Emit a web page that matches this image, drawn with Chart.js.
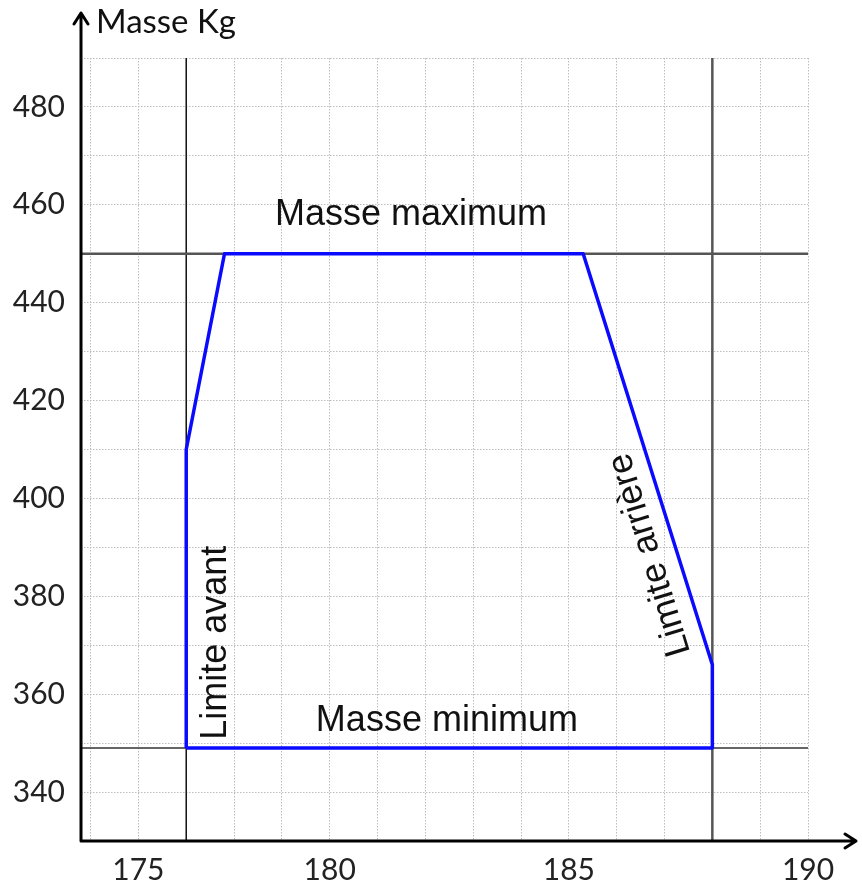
<!DOCTYPE html>
<html>
<head>
<meta charset="utf-8">
<script src="https://cdn.jsdelivr.net/npm/chart.js@4/dist/chart.umd.min.js"></script>
<style>
  html, body { margin: 0; background: #fff; }
</style>
</head>
<body>
<canvas id="centrage" width="862" height="891"></canvas>
<script>
// enveloppe de centrage : bras de levier (cm) / masse (kg)
const envX = [177, 177, 177.8, 185.3, 188, 188, 177];
const envY = [349, 410, 450, 450, 366, 349, 349];

const masseMax = 450;
const masseMin = 349;
const limiteAvant = 177;
const limiteArriere = 188;

const yTickLabels = [340, 360, 380, 400, 420, 440, 460, 480];
const xGrid = [175, 176, 177, 178, 179, 180, 181, 182, 183, 184, 185, 186, 187, 188, 189, 190];
const xTickAt = [176, 180, 185, 190];
const xTickText = ['175', '180', '185', '190'];

const X_MIN = 174.8, X_MAX = 190, Y_MIN = 330, Y_MAX = 490;

// textes posés sur le graphique (coordonnées dans les unités des axes)
const notes = [
    { text: 'Masse maximum', x: 181.7, y: 458, rot: 0 },
    { text: 'Masse minimum', x: 182.45, y: 354.5, rot: 0 },
    { text: 'Limite avant', x: 177.62, y: 370.5, rot: -90 },
    { text: 'Limite arrière', x: 186.7, y: 388.5, rot: -107 }
];

const line = (pts, color, width) => ({
    data: pts,
    borderColor: color,
    borderWidth: width,
    pointRadius: 0,
    fill: false
});

const axesPlugin = {
    id: 'axes',
    afterDraw(chart) {
        const ctx = chart.ctx;
        const a = chart.chartArea;
        const xs = chart.scales.x, ys = chart.scales.y;

        // textes
        ctx.save();
        ctx.fillStyle = '#111';
        ctx.font = '36px "Liberation Sans", Arial, sans-serif';
        ctx.textAlign = 'center';
        ctx.textBaseline = 'middle';
        notes.forEach(n => {
            ctx.save();
            ctx.translate(xs.getPixelForValue(n.x), ys.getPixelForValue(n.y));
            ctx.rotate(n.rot * Math.PI / 180);
            ctx.fillText(n.text, 0, 0);
            ctx.restore();
        });
        ctx.restore();

        // axes avec flèches
        ctx.save();
        ctx.strokeStyle = '#000';
        ctx.lineWidth = 3;
        ctx.lineCap = 'round';
        ctx.lineJoin = 'round';
        ctx.beginPath();
        ctx.moveTo(a.left, a.bottom);
        ctx.lineTo(a.left, 13);
        ctx.moveTo(a.left - 7, 24);
        ctx.lineTo(a.left, 13);
        ctx.lineTo(a.left + 7, 24);
        ctx.moveTo(a.left, a.bottom);
        ctx.lineTo(856, a.bottom);
        ctx.moveTo(845, a.bottom - 7);
        ctx.lineTo(856, a.bottom);
        ctx.lineTo(845, a.bottom + 7);
        ctx.stroke();

        ctx.fillStyle = '#111';
        ctx.font = '33px Lato, "Open Sans", sans-serif';
        ctx.textAlign = 'left';
        ctx.textBaseline = 'middle';
        ctx.fillText('Masse Kg', 96, 22);
        ctx.restore();
    }
};

const ctx = document.getElementById('centrage').getContext('2d');
const chart = new Chart(ctx, {
    type: 'line',
    data: {
        datasets: [
            line(envX.map((x, i) => ({ x: x, y: envY[i] })), '#0a0aff', 3.5),
            line([{ x: X_MIN, y: masseMax }, { x: X_MAX, y: masseMax }], '#555', 2.5),
            line([{ x: X_MIN, y: masseMin }, { x: X_MAX, y: masseMin }], '#333', 1.5),
            line([{ x: limiteAvant, y: Y_MIN }, { x: limiteAvant, y: Y_MAX }], '#111', 1.5),
            line([{ x: limiteArriere, y: Y_MIN }, { x: limiteArriere, y: Y_MAX }], '#555', 2.5)
        ]
    },
    options: {
        responsive: false,
        animation: false,
        layout: { padding: { top: 58, right: 54, left: 0, bottom: 0 } },
        plugins: { legend: { display: false }, tooltip: { enabled: false } },
        elements: { line: { borderJoinStyle: 'round', tension: 0 } },
        scales: {
            x: {
                type: 'linear',
                min: X_MIN,
                max: X_MAX,
                afterBuildTicks: (s) => { s.ticks = xGrid.map(v => ({ value: v })); },
                afterFit: (s) => { s.height = 50; },
                grid: { color: '#bdbdbd', lineWidth: 1, drawTicks: false },
                border: { display: false, dash: [1.5, 1.5] },
                ticks: {
                    autoSkip: false,
                    maxRotation: 0,
                    padding: 11,
                    color: '#222',
                    font: { family: 'Lato', size: 30 },
                    callback: (v) => {
                        const i = xTickAt.indexOf(v);
                        return i >= 0 ? xTickText[i] : '';
                    }
                }
            },
            y: {
                type: 'linear',
                min: Y_MIN,
                max: Y_MAX,
                afterFit: (s) => { s.width = 81; },
                grid: { color: '#bdbdbd', lineWidth: 1, drawTicks: false },
                border: { display: false, dash: [1.5, 1.5] },
                ticks: {
                    stepSize: 10,
                    autoSkip: false,
                    padding: 16,
                    color: '#222',
                    font: { family: 'Lato', size: 30 },
                    callback: (v) => yTickLabels.includes(v) ? String(v) : ''
                }
            }
        }
    },
    plugins: [axesPlugin]
});
</script>
</body>
</html>
